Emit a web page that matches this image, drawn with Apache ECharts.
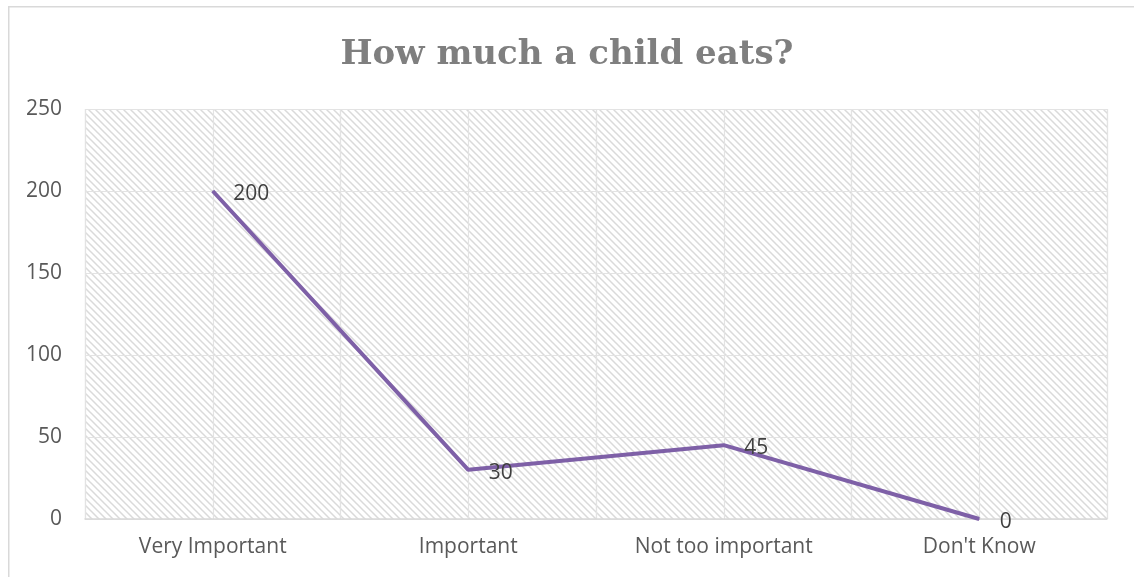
<!DOCTYPE html>
<html>
<head>
<meta charset="utf-8">
<script src="https://cdn.jsdelivr.net/npm/echarts@6/dist/echarts.min.js"></script>
<style>html,body{margin:0;padding:0;background:#fff}#c{width:1134px;height:577px}</style>
</head>
<body>
<div id="c"></div>
<script>
const title = "How much a child eats?";
const categories = ["Very Important", "Important", "Not too important", "Don't Know"];
const values = [200, 30, 45, 0];
const yTicks = { min: 0, max: 250, interval: 50 };

// hatch pattern tile
const tile = document.createElement('canvas');
tile.width = 7; tile.height = 7;
const tc = tile.getContext('2d');
tc.fillStyle = '#ffffff';
tc.fillRect(0, 0, 7, 7);
tc.strokeStyle = '#dadada';
tc.lineWidth = 1.5;
tc.beginPath();
tc.moveTo(-1, -1); tc.lineTo(8, 8);
tc.moveTo(-8, -1); tc.lineTo(1, 8);
tc.moveTo(6, -1); tc.lineTo(15, 8);
tc.stroke();

const chart = echarts.init(document.getElementById('c'), null, { renderer: 'canvas' });
const txt = '#595959';
const font = "'Open Sans', sans-serif";
chart.setOption({
  animation: false,
  backgroundColor: '#ffffff',
  graphic: [{
    type: 'rect', left: 8, top: 6, z: -10,
    shape: { width: 1140, height: 600 },
    style: { fill: '#ffffff', stroke: '#d9d9d9', lineWidth: 1.5 }
  }],
  title: {
    text: title, left: 'center', top: 33,
    textStyle: { fontFamily: "'DejaVu Serif', serif", fontWeight: 'bold', fontSize: 34, color: '#7f7f7f' }
  },
  grid: {
    left: 85, top: 109, width: 1022, height: 410,
    show: true, borderWidth: 0,
    backgroundColor: { image: tile, repeat: 'repeat' }
  },
  xAxis: [{
    type: 'category', data: categories, boundaryGap: true,
    axisLine: { show: true, lineStyle: { color: '#d9d9d9', width: 1.5 } },
    axisTick: { show: false },
    axisLabel: { color: txt, fontFamily: font, fontSize: 21, margin: 18 },
    splitLine: { show: true, lineStyle: { color: '#e3e3e3', width: 1.2 } }
  }, {
    type: 'value', min: 0, max: 4, interval: 0.5, position: 'bottom',
    axisLine: { show: false }, axisTick: { show: false }, axisLabel: { show: false },
    splitLine: { show: true, lineStyle: { color: '#e3e3e3', width: 1.2 } }
  }],
  yAxis: {
    type: 'value', min: yTicks.min, max: yTicks.max, interval: yTicks.interval,
    axisLine: { show: false }, axisTick: { show: false },
    axisLabel: { color: txt, fontFamily: font, fontSize: 21, margin: 23 },
    splitLine: { show: true, lineStyle: { color: '#e3e3e3', width: 1.2 } }
  },
  series: [{
    type: 'line', data: values, xAxisIndex: 0,
    symbol: 'circle', symbolSize: 1, showSymbol: true,
    lineStyle: { color: '#7e60a7', width: 4 },
    itemStyle: { color: '#7e60a7' },
    label: { show: true, position: 'right', distance: 20, offset: [0, 3],
      color: '#404040', fontFamily: font, fontSize: 21 }
  }]
});
</script>
</body>
</html>
